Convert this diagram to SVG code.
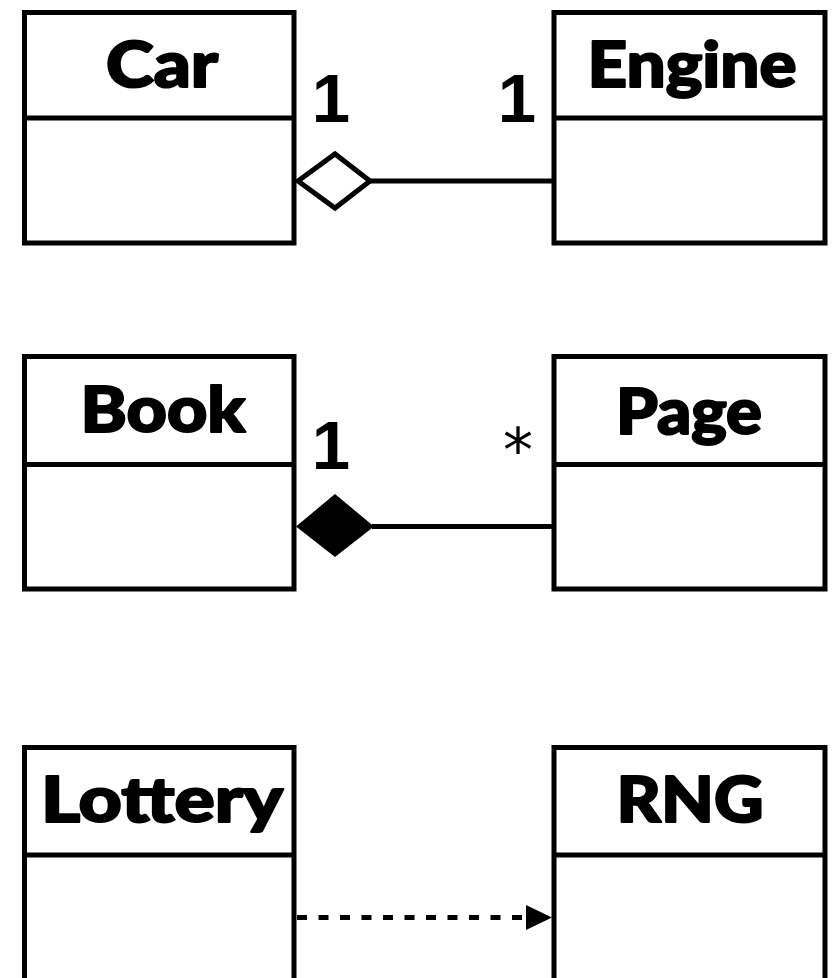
<svg xmlns="http://www.w3.org/2000/svg" width="839" height="978" viewBox="0 0 839 978">
<style>
.box{fill:#fff;stroke:#000;stroke-width:5}
.div{stroke:#000;stroke-width:5}
.title{font-family:Lato,"Liberation Sans",sans-serif;font-weight:900;font-size:62px;fill:#000;stroke:#000;stroke-width:2;stroke-linejoin:round;text-anchor:middle}
.mult{font-family:"Liberation Sans",Arial,sans-serif;font-weight:bold;font-size:69px;fill:#000;text-anchor:middle}
.star{font-family:"DejaVu Sans",sans-serif;font-size:60px;fill:#000;text-anchor:middle}
.conn{stroke:#000;stroke-width:5;fill:none}
</style>
<rect width="839" height="978" fill="#fff"/>
<g id="car">
<rect class="box" x="24.5" y="12.5" width="269.5" height="230.5"/>
<line class="div" x1="24.5" y1="118" x2="294" y2="118"/>
<text class="title" x="162" y="87" textLength="112" lengthAdjust="spacingAndGlyphs">Car</text>
</g>
<g id="engine">
<rect class="box" x="554" y="12.5" width="271" height="230.5"/>
<line class="div" x1="554" y1="118" x2="825" y2="118"/>
<text class="title" x="692" y="87" textLength="209" lengthAdjust="spacingAndGlyphs">Engine</text>
</g>
<g id="book">
<rect class="box" x="24.5" y="356.5" width="269.5" height="232.5"/>
<line class="div" x1="24.5" y1="464.5" x2="294" y2="464.5"/>
<text class="title" x="163" y="432" textLength="165" lengthAdjust="spacingAndGlyphs">Book</text>
</g>
<g id="page">
<rect class="box" x="554" y="356.5" width="271" height="232.5"/>
<line class="div" x1="554" y1="464.5" x2="825" y2="464.5"/>
<text class="title" x="689" y="434" textLength="146" lengthAdjust="spacingAndGlyphs">Page</text>
</g>
<g id="lottery">
<rect class="box" x="24.5" y="747.5" width="269.5" height="260"/>
<line class="div" x1="24.5" y1="855" x2="294" y2="855"/>
<text class="title" x="162" y="822" textLength="242" lengthAdjust="spacingAndGlyphs">Lottery</text>
</g>
<g id="rng">
<rect class="box" x="554" y="747.5" width="271" height="260"/>
<line class="div" x1="554" y1="855" x2="825" y2="855"/>
<text class="title" x="690" y="822" textLength="147" lengthAdjust="spacingAndGlyphs">RNG</text>
</g>
<g id="connectors">
<line class="conn" x1="370" y1="181" x2="552" y2="181"/>
<polygon points="298,181 335,154 370,181 335,208" fill="#fff" stroke="#000" stroke-width="5"/>
<line class="conn" x1="372" y1="526.5" x2="552" y2="526.5"/>
<polygon points="296,526.5 335,494 374,526.5 335,557" fill="#000"/>
<line class="conn" x1="297" y1="917.5" x2="526" y2="917.5" stroke-dasharray="10 11.5"/>
<polygon points="526,905 552,917.5 526,930" fill="#000"/>
<text class="mult" x="331" y="122">1</text>
<text class="mult" x="517" y="122">1</text>
<text class="mult" x="331" y="469">1</text>
<text class="star" x="518" y="471">*</text>
</g>
</svg>
